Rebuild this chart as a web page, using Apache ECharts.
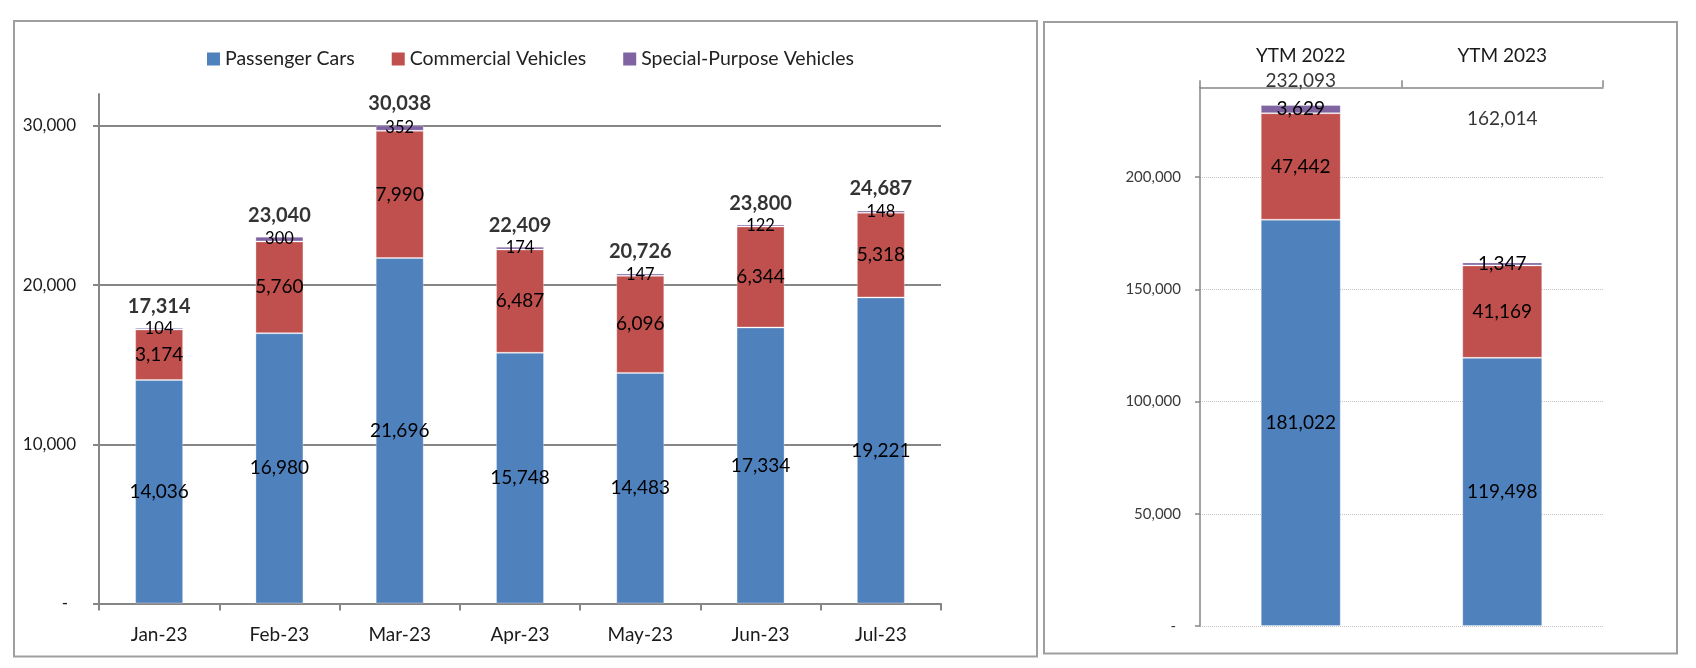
<!DOCTYPE html>
<html>
<head>
<meta charset="utf-8">
<script src="https://cdn.jsdelivr.net/npm/echarts/dist/echarts.min.js"></script>
<style>
html,body{margin:0;padding:0;background:#ffffff;}
#c{width:1696px;height:668px;}
</style>
</head>
<body>
<div id="c"></div>
<script>
// ---- data ----
const months = ['Jan-23','Feb-23','Mar-23','Apr-23','May-23','Jun-23','Jul-23'];
const passengerM = [14036,16980,21696,15748,14483,17334,19221];
const commercialM = [3174,5760,7990,6487,6096,6344,5318];
const specialM = [104,300,352,174,147,122,148];
const totalM = [17314,23040,30038,22409,20726,23800,24687];

const years = ['YTM 2022','YTM 2023'];
const passengerY = [181022,119498];
const commercialY = [47442,41169];
const specialY = [3629,1347];
const totalY = [232093,162014];

const leftYTicks = [0,10000,20000,30000];
const rightYTicks = [0,50000,100000,150000,200000];
const seriesNames = ['Passenger Cars','Commercial Vehicles','Special-Purpose Vehicles'];

// ---- style ----
const FONT = 'Lato, "Liberation Sans", sans-serif';
const C_BLUE = '#4F81BD', C_RED = '#C0504D', C_PURPLE = '#8064A2';
const AXIS_GRAY = '#868686';
const fmt = v => v === 0 ? '{d|-}' : v.toLocaleString('en-US');

function seg(name, data, color, idx, fs) {
  return {
    name: name, type: 'bar', stack: 's' + idx,
    xAxisIndex: idx, yAxisIndex: idx, data: data,
    barWidth: idx === 0 ? 48 : 80,
    itemStyle: { color: color, borderColor: 'rgba(255,255,255,0.3)', borderWidth: 1 },
    label: {
      show: true, position: 'inside', color: '#000', fontFamily: FONT, fontSize: fs,
      textBorderWidth: 0,
      formatter: p => p.value.toLocaleString('en-US')
    },
    emphasis: { disabled: true },
    z: 3
  };
}

const chart = echarts.init(document.getElementById('c'), null, { renderer: 'canvas' });

const option = {
  animation: false,
  backgroundColor: '#ffffff',
  textStyle: { fontFamily: FONT },
  graphic: [
    { type: 'rect', silent: true, shape: { x: 14, y: 21, width: 1023, height: 635.5 },
      style: { fill: 'none', stroke: '#9f9f9f', lineWidth: 2 } },
    { type: 'rect', silent: true, shape: { x: 1044, y: 22, width: 633, height: 631.5 },
      style: { fill: 'none', stroke: '#9f9f9f', lineWidth: 2 } }
  ],
  legend: {
    data: seriesNames,
    left: 202, top: 44,
    icon: 'rect', itemWidth: 13, itemHeight: 13, itemGap: 37,
    itemStyle: { borderWidth: 0 },
    textStyle: { fontFamily: FONT, fontSize: 19.5, color: '#222' },
    selectedMode: false
  },
  grid: [
    { left: 99, top: 94, width: 842, height: 509.5 },
    { left: 1200, top: 87.3, width: 403, height: 538.8 }
  ],
  xAxis: [
    {
      type: 'category', gridIndex: 0, data: months,
      axisLine: { onZero: false, lineStyle: { color: AXIS_GRAY, width: 2 } },
      axisTick: { show: true, length: 7, lineStyle: { color: AXIS_GRAY, width: 2 } },
      axisLabel: { fontFamily: FONT, fontSize: 19, color: '#1a1a1a', margin: 22 }
    },
    {
      type: 'category', gridIndex: 1, data: years, position: 'top',
      axisLine: { onZero: false, lineStyle: { color: AXIS_GRAY, width: 1.5 } },
      axisTick: { show: true, length: 7, lineStyle: { color: AXIS_GRAY, width: 1.5 } },
      axisLabel: { fontFamily: FONT, fontSize: 19, color: '#1a1a1a', margin: 22 }
    }
  ],
  yAxis: [
    {
      type: 'value', gridIndex: 0, min: 0, max: 32000, interval: 10000,
      axisLine: { show: true, lineStyle: { color: AXIS_GRAY, width: 2 } },
      axisTick: { show: true, length: 6, customValues: leftYTicks, lineStyle: { color: AXIS_GRAY, width: 2 } },
      splitLine: { show: true, lineStyle: { color: AXIS_GRAY, width: 2 } },
      axisLabel: {
        customValues: leftYTicks,
        fontFamily: FONT, fontSize: 17, color: '#1a1a1a', margin: 23,
        formatter: fmt, rich: { d: { fontFamily: FONT, fontSize: 17, color: '#1a1a1a', padding: [0, 8, 0, 0] } }
      }
    },
    {
      type: 'value', gridIndex: 1, min: 0, max: 240000, interval: 50000,
      axisLine: { show: true, lineStyle: { color: AXIS_GRAY, width: 1.5 } },
      axisTick: { show: true, length: 5, customValues: rightYTicks, lineStyle: { color: AXIS_GRAY, width: 1.5 } },
      splitLine: { show: true, lineStyle: { color: '#c4c4c4', width: 1, type: 'dotted' } },
      axisLabel: {
        customValues: rightYTicks,
        fontFamily: FONT, fontSize: 15, color: '#3a3a3a', margin: 19,
        formatter: fmt, rich: { d: { fontFamily: FONT, fontSize: 15, color: '#3a3a3a', padding: [0, 5, 0, 0] } }
      }
    }
  ],
  series: [
    seg(seriesNames[0], passengerM, C_BLUE, 0, 19),
    seg(seriesNames[1], commercialM, C_RED, 0, 19),
    seg(seriesNames[2], specialM, C_PURPLE, 0, 16.5),
    {
      name: 'TotalM', type: 'scatter', xAxisIndex: 0, yAxisIndex: 0, data: totalM,
      symbolSize: 1, itemStyle: { color: 'rgba(0,0,0,0)' }, z: 5,
      label: {
        show: true, position: 'top', distance: 11, color: '#000',
        fontFamily: FONT, fontSize: 20, fontWeight: 'bold',
        formatter: p => p.value.toLocaleString('en-US')
      },
      emphasis: { disabled: true }
    },
    seg(seriesNames[0], passengerY, C_BLUE, 1, 19),
    seg(seriesNames[1], commercialY, C_RED, 1, 19),
    seg(seriesNames[2], specialY, C_PURPLE, 1, 19),
    {
      name: 'TotalY', type: 'scatter', xAxisIndex: 1, yAxisIndex: 1,
      data: totalY.map((v, i) => ({ value: v, label: { distance: i === 0 ? 14 : 134 } })),
      symbolSize: 1, itemStyle: { color: 'rgba(0,0,0,0)' }, z: 5,
      label: {
        show: true, position: 'top', color: '#000',
        fontFamily: FONT, fontSize: 19,
        formatter: p => p.value.toLocaleString('en-US')
      },
      emphasis: { disabled: true }
    }
  ]
};

chart.setOption(option);
</script>
</body>
</html>
